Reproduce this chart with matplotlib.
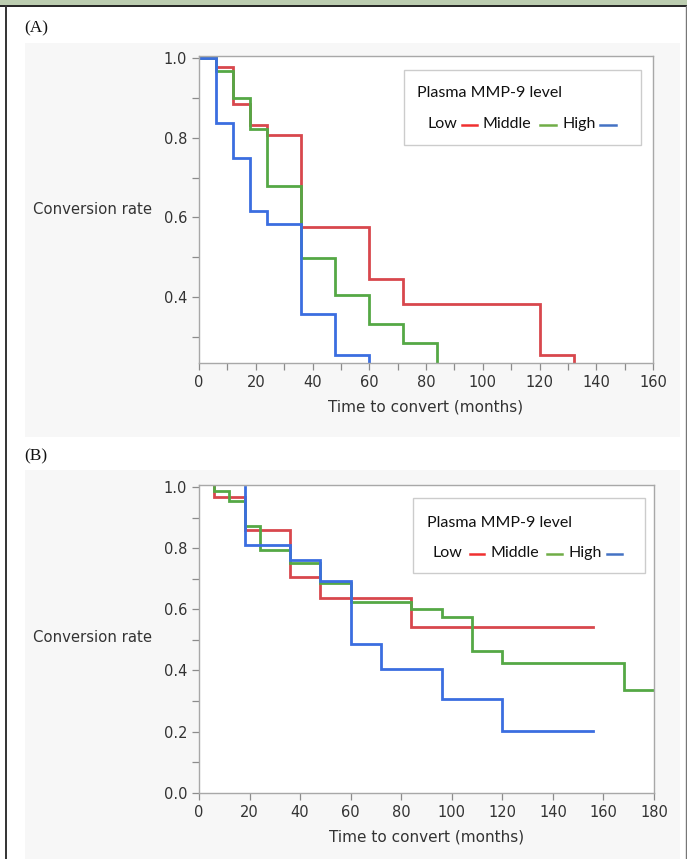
import matplotlib
matplotlib.use("Agg")
import matplotlib.pyplot as plt
from matplotlib.patches import Rectangle
from matplotlib.lines import Line2D
import numpy as np

# ---------------- data ----------------
A_low_t = [0, 6, 12, 18, 24, 36, 60, 72, 120, 132]
A_low_s = [1.0, 0.977, 0.886, 0.833, 0.807, 0.576, 0.446, 0.383, 0.254, 0.0]
A_mid_t = [0, 6, 12, 18, 24, 36, 48, 60, 72, 84]
A_mid_s = [1.0, 0.968, 0.899, 0.821, 0.679, 0.497, 0.405, 0.331, 0.283, 0.0]
A_high_t = [0, 6, 12, 18, 24, 36, 48, 60]
A_high_s = [1.0, 0.836, 0.748, 0.616, 0.583, 0.356, 0.254, 0.0]

B_low_t = [6, 6, 18, 36, 48, 84, 156]
B_low_s = [1.0, 0.967, 0.859, 0.704, 0.636, 0.542, 0.542]
B_mid_t = [6, 6, 12, 18, 24, 36, 48, 60, 84, 96, 108, 120, 168, 180]
B_mid_s = [1.0, 0.986, 0.955, 0.872, 0.794, 0.753, 0.685, 0.623, 0.600, 0.575, 0.464, 0.423, 0.336, 0.336]
B_high_t = [18, 18, 36, 48, 60, 72, 96, 120, 156]
B_high_s = [1.0, 0.809, 0.761, 0.693, 0.487, 0.405, 0.307, 0.202, 0.202]

A_xticks = [0, 20, 40, 60, 80, 100, 120, 140, 160]
A_yticks = [0.4, 0.6, 0.8, 1.0]
B_xticks = [0, 20, 40, 60, 80, 100, 120, 140, 160, 180]
B_yticks = [0.0, 0.2, 0.4, 0.6, 0.8, 1.0]

groups = ["Low", "Middle", "High"]
line_colors = ["#d8474d", "#55a845", "#3b6ee0"]
legend_colors = ["#f03030", "#70ad47", "#4472c4"]
legend_title = "Plasma MMP-9 level"
xlabel = "Time to convert (months)"
ylabel = "Conversion rate"

# ---------------- figure ----------------
W, H = 687, 859
fig = plt.figure(figsize=(W / 100, H / 100), dpi=100)
fig.patch.set_facecolor("white")

def fx(x):
    return x / W

def fy(y):
    return 1 - y / H

def frect(x0, y0, x1, y1, **kw):
    r = Rectangle((fx(x0), fy(y1)), fx(x1) - fx(x0), fy(y0) - fy(y1),
                  transform=fig.transFigure, **kw)
    fig.add_artist(r)

# decorations: top band, frame, grey panels
frect(0, 0, W, 4.5, facecolor="#bccdb0", edgecolor="none", zorder=0)
fig.add_artist(Line2D([0, 1], [fy(5.5), fy(5.5)], transform=fig.transFigure, color="#222222", lw=1.4))
fig.add_artist(Line2D([fx(6), fx(6)], [0, fy(5.5)], transform=fig.transFigure, color="#333333", lw=1.4))
fig.add_artist(Line2D([fx(685.5), fx(685.5)], [0, fy(5.5)], transform=fig.transFigure, color="#777777", lw=1.0))
frect(25, 43, 680, 437, facecolor="#f7f7f7", edgecolor="none", zorder=0)
frect(25, 470, 680, 859, facecolor="#f7f7f7", edgecolor="none", zorder=0)

fig.text(fx(24), fy(28), "(A)", family="Liberation Serif", fontsize=12.5, va="center", ha="left", color="#111111")
fig.text(fx(24), fy(456), "(B)", family="Liberation Serif", fontsize=12.5, va="center", ha="left", color="#111111")

spine_c = "#a8a8a8"
text_c = "#333333"

def make_axes(x0, y0, x1, y1):
    ax = fig.add_axes([fx(x0), fy(y1), fx(x1) - fx(x0), fy(y0) - fy(y1)])
    ax.set_facecolor("white")
    for s in ax.spines.values():
        s.set_color(spine_c)
        s.set_linewidth(1.0)
    ax.tick_params(which="both", direction="out", length=5, width=0.9, color="#8c8c8c",
                   labelsize=10.5, labelcolor=text_c, pad=3.5)
    return ax

# ---------- Panel A ----------
axA = make_axes(199, 56, 653, 363.3)
for t, s, c in zip([A_low_t, A_mid_t, A_high_t], [A_low_s, A_mid_s, A_high_s], line_colors):
    axA.step(t, s, where="post", color=c, lw=2.0, solid_joinstyle="miter")
axA.set_xlim(0, 160)
axA.set_ylim(0.2327, 1.0058)
axA.set_xticks(A_xticks)
axA.set_xticklabels([str(v) for v in A_xticks])
axA.set_xticks(np.arange(10, 160, 20), minor=True)
axA.set_yticks(A_yticks)
axA.set_yticklabels([f"{v:.1f}" for v in A_yticks])
axA.set_yticks([0.3, 0.5, 0.7, 0.9], minor=True)
axA.set_xlabel(xlabel, fontsize=11, color=text_c, labelpad=7)

# ---------- Panel B ----------
axB = make_axes(199, 485.3, 654, 792.7)
for t, s, c in zip([B_low_t, B_mid_t, B_high_t], [B_low_s, B_mid_s, B_high_s], line_colors):
    axB.step(t, s, where="post", color=c, lw=2.0, solid_joinstyle="miter")
axB.set_xlim(0, 180)
axB.set_ylim(0.0, 1.0056)
axB.set_xticks(B_xticks)
axB.set_xticklabels([str(v) for v in B_xticks])
axB.set_yticks(B_yticks)
axB.set_yticklabels([f"{v:.1f}" for v in B_yticks])
axB.set_yticks(np.arange(0.1, 1.0, 0.2), minor=True)
axB.set_xlabel(xlabel, fontsize=11, color=text_c, labelpad=7)

# y labels (horizontal, left of axes)
fig.text(fx(33), fy(209), ylabel, fontsize=10.7, color=text_c, va="center", ha="left")
fig.text(fx(33), fy(637), ylabel, fontsize=10.7, color=text_c, va="center", ha="left")

# ---------- legends ----------
def draw_legend(box, title_xy, row_y, pos):
    x0, y0, x1, y1 = box
    frect(x0, y0, x1, y1, facecolor="white", edgecolor="#cccccc", lw=1.0, zorder=5)
    fig.text(fx(title_xy[0]), fy(title_xy[1]), legend_title, family="Lato", fontsize=11.5,
             color="#111111", va="center", ha="left", zorder=6)
    for (tx, lx0, lx1), g, c in zip(pos, groups, legend_colors):
        fig.text(fx(tx), fy(row_y), g, family="Lato", fontsize=11.5, color="#111111",
                 va="center", ha="left", zorder=6)
        fig.add_artist(Line2D([fx(lx0), fx(lx1)], [fy(row_y + 1), fy(row_y + 1)],
                              transform=fig.transFigure, color=c, lw=1.8, zorder=6))

draw_legend((404, 70, 641, 145), (417, 93), 124,
            [(427, 462, 477), (483, 540, 556), (562, 600, 616)])
draw_legend((413, 498, 645, 573), (427, 523), 553,
            [(433, 470, 484), (490, 547, 562), (568, 607, 622)])

fig.savefig("out.png", dpi=100)
